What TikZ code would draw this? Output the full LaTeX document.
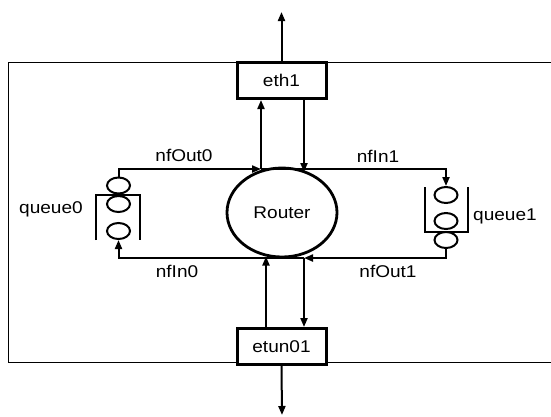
\documentclass[tikz,border=0pt]{standalone}
\usepackage{fontspec}
\setmainfont{Liberation Sans}[FakeStretch=1.12]
\usetikzlibrary{arrows.meta,positioning,shapes.geometric}
\tikzset{>={Triangle[length=9pt,width=7pt]},every node/.style={font=\fontsize{17}{19}\selectfont},
 ifbox/.style={draw,line width=3pt,fill=white,minimum width=89pt,minimum height=36pt,inner sep=0pt},
 router/.style={ellipse,draw,line width=2.8pt,minimum width=110pt,minimum height=89pt,inner sep=0pt},
 qslot/.style={ellipse,draw,line width=2pt,minimum width=23pt,minimum height=16pt,inner sep=0pt},
 qwall/.style={line width=2pt},flow/.style={draw,line width=2pt,->}}
\begin{document}
\begin{tikzpicture}[x=1pt,y=-1pt]
\useasboundingbox (0,0) rectangle (551,416);
\draw[line width=1.5pt] (552,62.5)--(8.5,62.5)--(8.5,362.5)--(552,362.5);
\node[ifbox] (eth1) at (281.5,80.5) {eth1};
\node[ifbox] (etun01) at (281.5,346.5) {etun01};
\node[router] (Router) at (282,212.5) {Router};
\foreach \y/\n in {185.5/a,204/b,231/c}\node[qslot] (q0\n) at (118.5,\y) {};
\foreach \y/\n in {195/a,221/b,240/c}\node[qslot] (q1\n) at (446,\y) {};
\draw[qwall] (96,240)--(96,195)--(140,195)--(140,240);
\draw[qwall] (425,187)--(425,232)--(468,232)--(468,187);
\node (q0lab) at (51,209) {queue0};
\node (q1lab) at (505,216) {queue1};
\node (out0) at (184,155) {nfOut0};
\node (in1) at (378,156) {nfIn1};
\node (in0) at (177,271) {nfIn0};
\node (out1) at (388,271) {nfOut1};
\coordinate (rtopL) at (261,169);
\coordinate (rtopR) at (304,172);
\coordinate (rbotL) at (266,256.5);
\coordinate (rbotR) at (304,258);
\coordinate (up) at (281.5,12);
\coordinate (down) at (282,415);
\draw[flow] (eth1.north) -- (up);
\draw[flow] (etun01.south) -- (down);
\draw[flow] (eth1.south -| rtopR) -- (rtopR);
\draw[flow] (rtopL) -- (eth1.south -| rtopL);
\draw[flow] (q0a.north) |- (rtopL);
\draw[flow] (rtopL) -| (q1a.north);
\draw[flow] (q1c.south) |- (rbotR);
\draw[flow] (rbotR) -| (q0c.south);
\draw[flow] (etun01.north -| rbotL) -- (rbotL);
\draw[flow] (rbotR) -- (etun01.north -| rbotR);
\end{tikzpicture}
\end{document}
